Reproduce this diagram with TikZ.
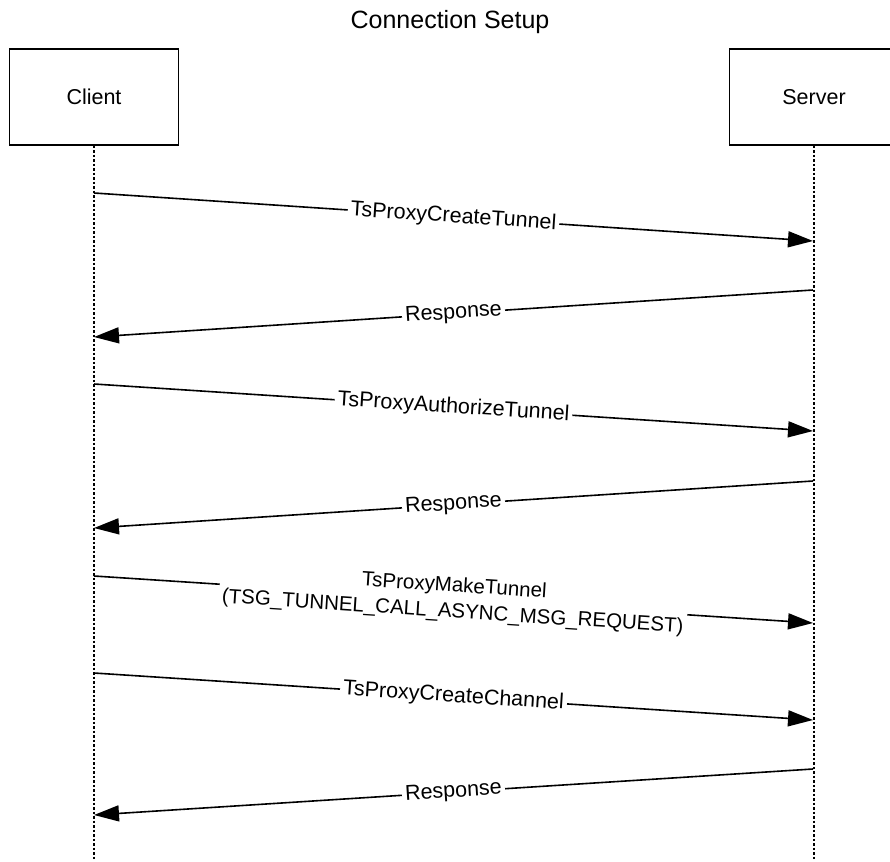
\documentclass[tikz,border=0pt]{standalone}
\usepackage{fontspec}
\setmainfont{Liberation Sans}
\usetikzlibrary{arrows.meta}
\begin{document}
\begin{tikzpicture}[x=1pt,y=-1pt,
  actor/.style={draw, line width=1.3pt, minimum width=169pt, minimum height=96pt, inner sep=0pt, font=\fontsize{21.5}{24}\selectfont},
  life/.style={line width=1.2pt, dash pattern=on 2.5pt off 2pt},
  msg/.style={line width=1.6pt, -{Triangle[length=25pt,width=16pt]}},
  lbl/.style={fill=white, sloped, inner sep=3pt, align=center, font=\fontsize{21.5}{24}\selectfont},
  ttl/.style={font=\fontsize{25}{28}\selectfont}
]
\clip (0,0) rectangle (890,861);
\node[ttl] (title) at (450,22) {Connection Setup};
\node[actor] (client) at (94,97) {Client};
\node[actor] (server) at (814,97) {Server};
\coordinate (cend) at (94,861);
\coordinate (send) at (814,861);
\draw[life] (client.south) -- (cend);
\draw[life] (server.south) -- (send);
\coordinate (c1) at (94,193); \coordinate (s1) at (813,241);
\coordinate (s2) at (813,290); \coordinate (c2) at (94,337);
\coordinate (c3) at (94,384); \coordinate (s3) at (813,431);
\coordinate (s4) at (813,481); \coordinate (c4) at (94,528);
\coordinate (c5) at (94,576); \coordinate (s5) at (813,623);
\coordinate (c6) at (94,673); \coordinate (s6) at (813,720);
\coordinate (s7) at (813,769); \coordinate (c7) at (94,815);
\draw[msg] (c1) -- node[lbl] (m1) {TsProxyCreateTunnel} (s1);
\draw[msg] (s2) -- node[lbl] (m2) {Response} (c2);
\draw[msg] (c3) -- node[lbl] (m3) {TsProxyAuthorizeTunnel} (s3);
\draw[msg] (s4) -- node[lbl] (m4) {Response} (c4);
\draw[msg] (c5) -- node[lbl, font=\fontsize{20.5}{26}\selectfont] (m5) {TsProxyMakeTunnel\\(TSG\_TUNNEL\_CALL\_ASYNC\_MSG\_REQUEST)} (s5);
\draw[msg] (c6) -- node[lbl] (m6) {TsProxyCreateChannel} (s6);
\draw[msg] (s7) -- node[lbl] (m7) {Response} (c7);
\end{tikzpicture}
\end{document}
